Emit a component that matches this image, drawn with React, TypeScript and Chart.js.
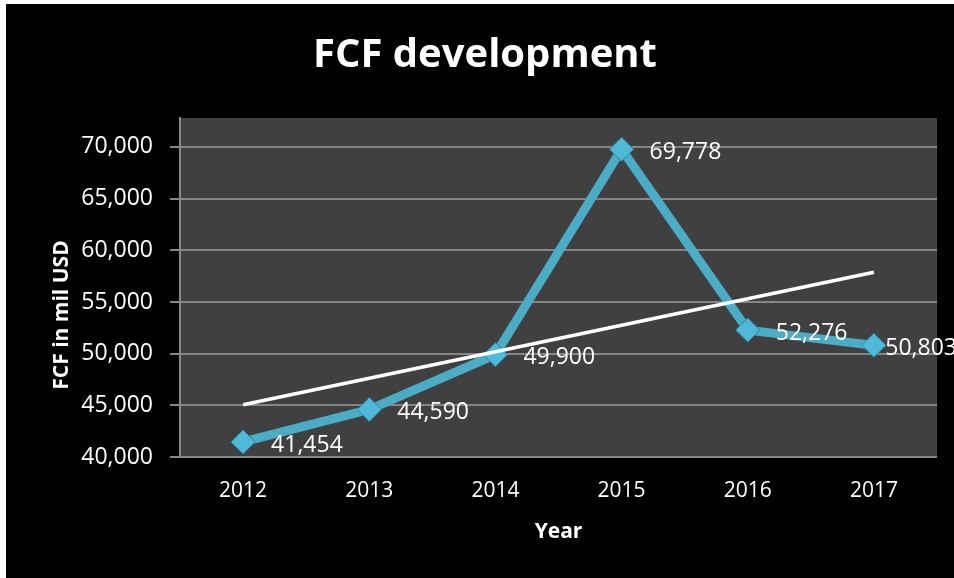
import React, { useEffect, useRef } from "react";
import { Chart, registerables } from "chart.js";

Chart.register(...registerables);

const years = ["2012", "2013", "2014", "2015", "2016", "2017"];
const fcfValues = [41454, 44590, 49900, 69778, 52276, 50803];
// linear trend line (start and end values)
const trendValues = [45061, null, null, null, null, 57872];
const yTickValues = [40000, 45000, 50000, 55000, 60000, 65000, 70000];
const yMin = 40000;
const yMax = 72800;
const chartTitle = "FCF development";
const yTitle = "FCF in mil USD";
const xTitle = "Year";

const FONT = "'Open Sans', 'DejaVu Sans', sans-serif";

const plotBgPlugin = {
  id: "plotBg",
  beforeDraw(chart: any) {
    const { ctx, chartArea } = chart;
    ctx.save();
    ctx.fillStyle = "#404040";
    ctx.fillRect(chartArea.left, chartArea.top, chartArea.right - chartArea.left, chartArea.bottom - chartArea.top);
    ctx.restore();
  },
};

const labelsPlugin = {
  id: "dataLabels",
  afterDatasetsDraw(chart: any) {
    const { ctx } = chart;
    const meta = chart.getDatasetMeta(1);
    ctx.save();
    ctx.font = `23px ${FONT}`;
    ctx.fillStyle = "#ffffff";
    ctx.textAlign = "left";
    ctx.textBaseline = "middle";
    meta.data.forEach((pt: any, i: number) => {
      const text = fcfValues[i].toLocaleString("en-US");
      const w = ctx.measureText(text).width;
      const x = Math.min(pt.x + 28, chart.width - w + 3);
      ctx.fillText(text, x, pt.y + 3);
    });
    ctx.restore();
  },
};

const titlesPlugin = {
  id: "titles",
  afterDraw(chart: any) {
    const { ctx, chartArea } = chart;
    ctx.save();
    ctx.fillStyle = "#ffffff";
    ctx.textAlign = "center";
    ctx.textBaseline = "middle";
    ctx.font = `bold 40px ${FONT}`;
    ctx.fillText(chartTitle, 479, 52);
    ctx.translate(56, chartArea.bottom - 142);
    ctx.rotate(-Math.PI / 2);
    ctx.font = `bold 21px ${FONT}`;
    ctx.fillText(yTitle, 0, 0);
    ctx.restore();
  },
};

export default function App() {
  const ref = useRef<HTMLCanvasElement>(null);
  useEffect(() => {
    if (!ref.current) return;
    const chart = new Chart(ref.current, {
      type: "line",
      data: {
        labels: years,
        datasets: [
          {
            label: "Trend",
            data: trendValues as any,
            borderColor: "#ffffff",
            borderWidth: 3.5,
            pointRadius: 0,
            spanGaps: true,
            fill: false,
          },
          {
            label: "FCF",
            data: fcfValues,
            borderColor: "#4bacc6",
            borderWidth: 9,
            pointStyle: "rectRot",
            pointRadius: 12,
            pointBackgroundColor: "#4fb9d9",
            pointBorderColor: "#2b86a2",
            pointBorderWidth: 1,
            fill: false,
            tension: 0,
          },
        ],
      },
      options: {
        responsive: false,
        animation: false,
        layout: { padding: { left: 0, right: 17, top: 114, bottom: 0 } },
        plugins: {
          legend: { display: false },
          tooltip: { enabled: false },
          title: { display: false },
        },
        scales: {
          x: {
            offset: true,
            grid: { display: false, drawTicks: false },
            border: { display: false },
            ticks: { color: "#ffffff", font: { family: FONT, size: 21 }, padding: 21 },
            title: {
              display: true,
              text: xTitle,
              color: "#ffffff",
              font: { family: FONT, size: 21, weight: "bold" },
              padding: { top: 0, bottom: 33 },
            },
            afterFit(scale: any) {
              scale.height = 121;
            },
          },
          y: {
            min: yMin,
            max: yMax,
            afterBuildTicks(scale: any) {
              scale.ticks = yTickValues.map((v) => ({ value: v }));
            },
            afterFit(scale: any) {
              scale.width = 174;
            },
            grid: { color: "#868686", lineWidth: 2, tickLength: 10, drawTicks: true },
            border: { display: true, color: "#8a8a8a", width: 2 },
            ticks: {
              color: "#ffffff",
              font: { family: FONT, size: 23 },
              padding: 17,
              callback: (v: any) => Number(v).toLocaleString("en-US"),
            },
          },
        },
      },
      plugins: [plotBgPlugin, labelsPlugin, titlesPlugin],
    } as any);
    return () => chart.destroy();
  }, []);

  return (
    <div style={{ position: "fixed", left: 6, top: 4, width: 948, height: 574, background: "#000" }}>
      <canvas ref={ref} width={948} height={574} style={{ display: "block" }} />
    </div>
  );
}
